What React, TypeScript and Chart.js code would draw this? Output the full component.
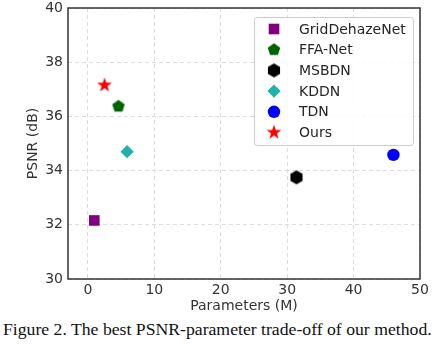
import React, { useEffect, useRef } from 'react';
import { Chart, registerables } from 'chart.js';
import { drawPoint } from 'chart.js/helpers';

Chart.register(...registerables);

const methods = ['GridDehazeNet', 'FFA-Net', 'MSBDN', 'KDDN', 'TDN', 'Ours'];
const paramsM = [0.96, 4.6, 31.4, 5.9, 46.0, 2.5];
const psnrDb = [32.16, 36.37, 33.75, 34.7, 34.58, 37.15];
const markerColors = ['#800080', '#006400', '#000000', '#20b2aa', '#0000ff', '#ff0000'];
const xTicks = [0, 10, 20, 30, 40, 50];
const yTicks = [30, 32, 34, 36, 38, 40];
const xRange = [-3, 50];
const yRange = [30, 40];
const captionText = 'Figure 2. The best PSNR-parameter trade-off of our method.';

function shapeCanvas(color: string, outer: number, points: number, inner?: number): HTMLCanvasElement {
  const size = 2 * Math.ceil(outer) + 2;
  const c = document.createElement('canvas');
  c.width = size;
  c.height = size;
  const g = c.getContext('2d')!;
  const cx = size / 2;
  const cy = size / 2;
  g.fillStyle = color;
  g.beginPath();
  const n = inner ? points * 2 : points;
  for (let i = 0; i < n; i++) {
    const r = inner ? (i % 2 === 0 ? outer : inner) : outer;
    const a = -Math.PI / 2 + (i * 2 * Math.PI) / n;
    const px = cx + r * Math.cos(a);
    const py = cy + r * Math.sin(a);
    if (i === 0) g.moveTo(px, py);
    else g.lineTo(px, py);
  }
  g.closePath();
  g.fill();
  return c;
}

const framePlugin = {
  id: 'frame',
  beforeDatasetsDraw(chart: any) {
    const { ctx, chartArea } = chart;
    ctx.save();
    ctx.strokeStyle = '#333333';
    ctx.lineWidth = 1.5;
    ctx.strokeRect(chartArea.left, chartArea.top, chartArea.right - chartArea.left, chartArea.bottom - chartArea.top);
    ctx.restore();
  },
};

const boxLegendPlugin = {
  id: 'boxLegend',
  afterDatasetsDraw(chart: any) {
    const { ctx, chartArea } = chart;
    const w = 159;
    const h = 128;
    const left = chartArea.right - 7 - w;
    const top = chartArea.top + 9;
    ctx.save();
    ctx.fillStyle = 'rgba(255,255,255,0.85)';
    ctx.strokeStyle = '#cccccc';
    ctx.lineWidth = 1;
    ctx.beginPath();
    ctx.roundRect(left + 0.5, top + 0.5, w, h, 3);
    ctx.fill();
    ctx.stroke();
    ctx.font = '14px "DejaVu Sans"';
    ctx.textBaseline = 'middle';
    ctx.textAlign = 'left';
    chart.data.datasets.forEach((ds: any, i: number) => {
      const y = top + 12 + i * 20.7;
      const el = chart.getDatasetMeta(i).data[0];
      const o = el.options;
      ctx.fillStyle = o.backgroundColor;
      ctx.strokeStyle = o.borderColor;
      drawPoint(ctx, { pointStyle: o.pointStyle, radius: o.radius, rotation: 0, borderWidth: 0 }, left + 20, y);
      ctx.fillStyle = '#262626';
      ctx.fillText(ds.label, left + 45, y + 1);
    });
    ctx.restore();
  },
};

export default function App() {
  const ref = useRef<HTMLCanvasElement>(null);
  useEffect(() => {
    Chart.defaults.font.family = '"DejaVu Sans"';
    const styles: any[] = [
      'rect',
      shapeCanvas(markerColors[1], 6.6, 5),
      shapeCanvas(markerColors[2], 7, 6),
      'rectRot',
      'circle',
      shapeCanvas(markerColors[5], 7.8, 5, 3.1),
    ];
    const radii = [7.5, 7, 7, 6.6, 6.2, 8];
    const datasets = methods.map((m, i) => ({
      label: m,
      data: [{ x: paramsM[i], y: psnrDb[i] }],
      pointStyle: styles[i],
      pointRadius: radii[i],
      pointBackgroundColor: markerColors[i],
      pointBorderColor: markerColors[i],
      pointBorderWidth: 0,
      backgroundColor: markerColors[i],
      borderColor: markerColors[i],
    }));
    const tickColor = '#333333';
    const chart = new Chart(ref.current!, {
      type: 'scatter',
      data: { datasets },
      options: {
        animation: false,
        responsive: false,
        layout: { padding: { top: 6, right: 20, left: 0, bottom: 0 } },
        plugins: { legend: { display: false }, tooltip: { enabled: false } },
        scales: {
          x: {
            type: 'linear',
            min: xRange[0],
            max: xRange[1],
            afterBuildTicks: (s: any) => { s.ticks = xTicks.map((v) => ({ value: v })); },
            afterFit: (s: any) => { s.height = 39; s.paddingLeft = 0; s.paddingRight = 0; },
            ticks: { color: tickColor, font: { size: 14 }, padding: 3, maxRotation: 0 },
            grid: { color: '#dddddd', lineWidth: 1, drawTicks: false },
            border: { display: false, dash: [4, 3] },
            title: { display: true, text: 'Parameters (M)', color: tickColor, font: { size: 14 }, padding: { top: 0, bottom: 3 } },
          },
          y: {
            type: 'linear',
            min: yRange[0],
            max: yRange[1],
            afterBuildTicks: (s: any) => { s.ticks = yTicks.map((v) => ({ value: v })); },
            afterFit: (s: any) => { s.width = 68; s.paddingTop = 0; s.paddingBottom = 0; },
            ticks: { color: tickColor, font: { size: 14 }, padding: 5 },
            grid: { color: '#dddddd', lineWidth: 1, drawTicks: false },
            border: { display: false, dash: [4, 3] },
            title: { display: true, text: 'PSNR (dB)', color: tickColor, font: { size: 14 }, padding: { top: 25, bottom: 0 } },
          },
        },
      },
      plugins: [framePlugin, boxLegendPlugin],
    });
    return () => chart.destroy();
  }, []);
  return (
    <div style={{ position: 'fixed', left: 0, top: 0, width: 440, height: 344, background: '#ffffff', overflow: 'hidden' }}>
      <canvas ref={ref} width={440} height={318} style={{ display: 'block', width: 440, height: 318 }} />
      <div
        style={{
          position: 'absolute',
          left: 3,
          top: 318,
          width: 440,
          whiteSpace: 'nowrap',
          fontFamily: '"Liberation Serif", "Times New Roman", serif',
          fontSize: 17.7,
          lineHeight: '22px',
          color: '#111111',
        }}
      >
        {captionText}
      </div>
    </div>
  );
}
